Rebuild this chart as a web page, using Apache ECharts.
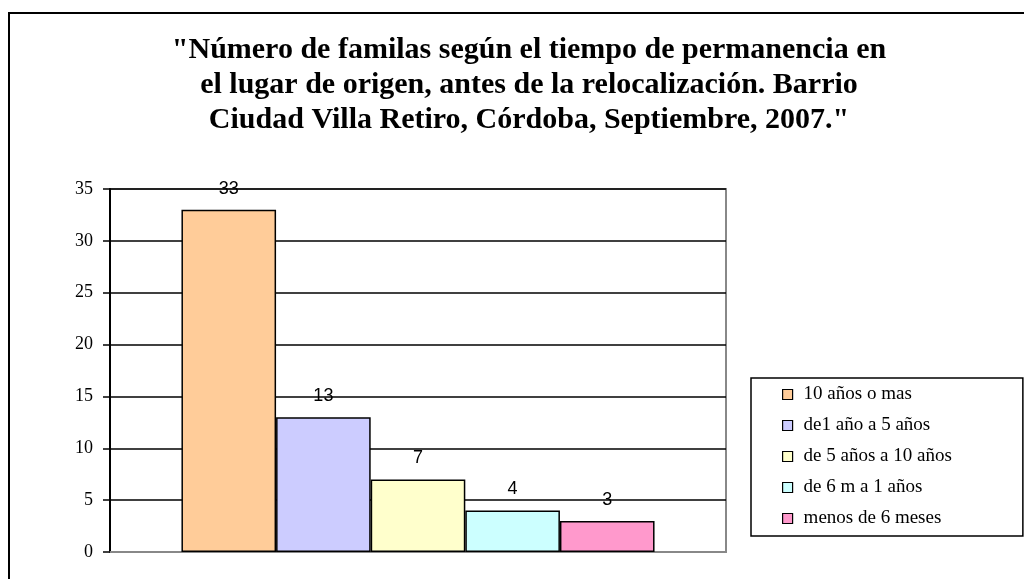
<!DOCTYPE html>
<html>
<head>
<meta charset="utf-8">
<script src="https://cdn.jsdelivr.net/npm/echarts@6/dist/echarts.min.js"></script>
<style>
  html, body { margin: 0; padding: 0; background: #fff; }
  #chart { width: 1024px; height: 579px; }
</style>
</head>
<body>
<div id="chart"></div>
<script>
// datos
const titulo = '"Número de familas según el tiempo de permanencia en\nel lugar de origen, antes de la relocalización. Barrio\nCiudad Villa Retiro, Córdoba, Septiembre, 2007."';
const categorias = [''];
const series_nombres = ['10 años o mas', 'de1 año a 5 años', 'de 5 años a 10 años', 'de 6 m a 1 años', 'menos de 6 meses'];
const valores = [33, 13, 7, 4, 3];
const colores = ['#FFCC99', '#CCCCFF', '#FFFFCC', '#CCFFFF', '#FF99CC'];
const ejeY = { min: 0, max: 35, interval: 5 };

const chart = echarts.init(document.getElementById('chart'));

const series = series_nombres.map((nombre, i) => ({
  name: nombre,
  type: 'bar',
  data: [valores[i]],
  barGap: '0%',
  barCategoryGap: '23.2%',
  itemStyle: {
    color: colores[i],
    borderColor: '#000',
    borderWidth: 1.5
  },
  label: {
    show: true,
    position: 'top',
    distance: 12,
    fontFamily: 'Liberation Sans',
    fontSize: 18,
    color: '#000'
  }
}));

const option = {
  backgroundColor: '#fff',
  animation: false,
  graphic: [{
    type: 'rect',
    z: -10,
    shape: { x: 9, y: 13, width: 1100, height: 700 },
    style: { fill: 'none', stroke: '#000', lineWidth: 2 }
  }],
  title: {
    text: titulo,
    left: 524,
    top: 28,
    textAlign: 'center',
    textStyle: {
      fontFamily: 'Liberation Serif',
      fontWeight: 'bold',
      fontSize: 30,
      lineHeight: 35,
      color: '#000'
    }
  },
  legend: {
    orient: 'vertical',
    left: 751,
    top: 378,
    padding: [7, 71, 8, 31],
    borderColor: '#000',
    borderWidth: 1.5,
    itemWidth: 10,
    itemHeight: 10,
    itemGap: 12,
    icon: 'rect',
    itemStyle: { borderWidth: 1.2, borderColor: '#000' },
    textStyle: {
      fontFamily: 'Liberation Serif',
      fontSize: 19,
      color: '#000',
      padding: [0, 0, 0, 6]
    },
    data: series_nombres
  },
  grid: {
    left: 110,
    right: 298,
    top: 189,
    bottom: 27,
    show: true,
    borderColor: '#888',
    borderWidth: 2,
    containLabel: false
  },
  xAxis: {
    type: 'category',
    data: categorias,
    axisLine: { lineStyle: { color: '#888', width: 2 } },
    axisTick: { show: false },
    axisLabel: { show: false }
  },
  yAxis: {
    type: 'value',
    min: ejeY.min,
    max: ejeY.max,
    interval: ejeY.interval,
    axisLine: { show: true, lineStyle: { color: '#000', width: 2 } },
    axisTick: { show: true, length: 7, lineStyle: { color: '#000', width: 1.5 } },
    axisLabel: {
      margin: 17,
      fontFamily: 'Liberation Serif',
      fontSize: 18,
      color: '#000'
    },
    splitLine: { lineStyle: { color: '#000', width: 1.5 } }
  },
  series: series
};

chart.setOption(option);
</script>
</body>
</html>
